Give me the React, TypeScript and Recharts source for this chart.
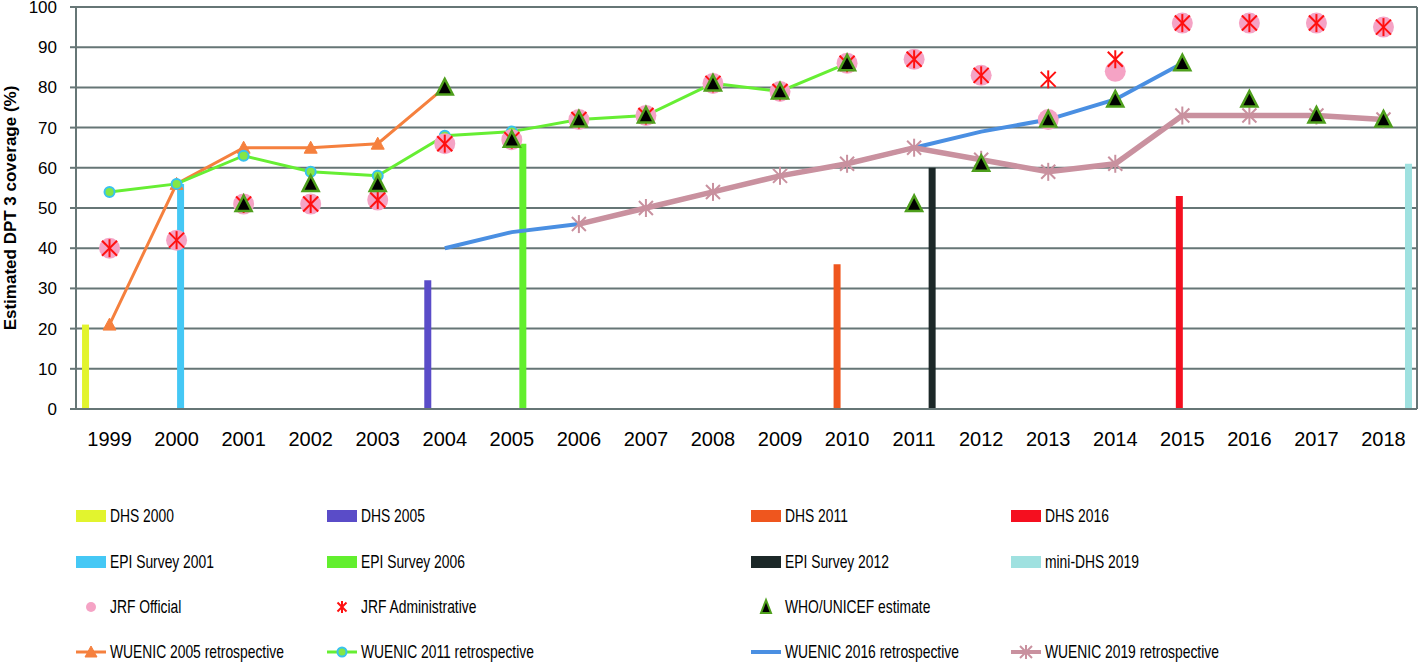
import React from 'react';
import { ComposedChart, Bar, Line, XAxis, YAxis, CartesianGrid } from 'recharts';

const years = ['1999','2000','2001','2002','2003','2004','2005','2006','2007','2008','2009','2010','2011','2012','2013','2014','2015','2016','2017','2018'];

// Survey bars (one value each, placed in its category)
const dhs2000 =     [21, null, null, null, null, null, null, null, null, null, null, null, null, null, null, null, null, null, null, null];
const dhs2005 =     [null, null, null, null, null, 32, null, null, null, null, null, null, null, null, null, null, null, null, null, null];
const dhs2011 =     [null, null, null, null, null, null, null, null, null, null, null, 36, null, null, null, null, null, null, null, null];
const dhs2016 =     [null, null, null, null, null, null, null, null, null, null, null, null, null, null, null, null, 53, null, null, null];
const epi2001 =     [null, 56, null, null, null, null, null, null, null, null, null, null, null, null, null, null, null, null, null, null];
const epi2006 =     [null, null, null, null, null, null, 66, null, null, null, null, null, null, null, null, null, null, null, null, null];
const epi2012 =     [null, null, null, null, null, null, null, null, null, null, null, null, 60, null, null, null, null, null, null, null];
const miniDhs2019 = [null, null, null, null, null, null, null, null, null, null, null, null, null, null, null, null, null, null, null, 61];

const jrfOfficial = [40, 42, 51, 51, 52, 66, 67, 72, 73, 81, 79, 86, 87, 83, 72, 84, 96, 96, 96, 95];
const jrfAdmin =    [40, 42, 51, 51, 52, 66, 67, 72, 73, 81, 79, 86, 87, 83, 82, 87, 96, 96, 96, 95];
const whoUnicef =   [null, null, 51, 56, 56, 80, 67, 72, 73, 81, 79, 86, 51, 61, 72, 77, 86, 77, 73, 72];

const wuenic2005 = [21, 56, 65, 65, 66, 80, null, null, null, null, null, null, null, null, null, null, null, null, null, null];
const wuenic2011 = [54, 56, 63, 59, 58, 68, 69, 72, 73, 81, 79, 86, null, null, null, null, null, null, null, null];
const wuenic2016 = [null, null, null, null, null, 40, 44, 46, 50, 54, 58, 61, 65, 69, 72, 77, 86, null, null, null];
const wuenic2019 = [null, null, null, null, null, null, null, 46, 50, 54, 58, 61, 65, 62, 59, 61, 73, 73, 73, 72];

const yTicks = [0, 10, 20, 30, 40, 50, 60, 70, 80, 90, 100];
const boundaryTicks = years.map((_, i) => i).concat([years.length]);

const data = years.map((year, i) => ({
  year,
  dhs2000: dhs2000[i], dhs2005: dhs2005[i], dhs2011: dhs2011[i], dhs2016: dhs2016[i],
  epi2001: epi2001[i], epi2006: epi2006[i], epi2012: epi2012[i], miniDhs2019: miniDhs2019[i],
  jrfOfficial: jrfOfficial[i], jrfAdmin: jrfAdmin[i], whoUnicef: whoUnicef[i],
  wuenic2005: wuenic2005[i], wuenic2011: wuenic2011[i], wuenic2016: wuenic2016[i], wuenic2019: wuenic2019[i],
}));

const C = {
  dhs2000: '#e2f42e', dhs2005: '#5a4cc8', dhs2011: '#ef561e', dhs2016: '#f50f1f',
  epi2001: '#45c8f5', epi2006: '#62ef2e', epi2012: '#1c2828', miniDhs2019: '#9fe1e0',
  pink: '#f5a3c5', red: '#ff1010', triFill: '#000000', triStroke: '#4e9f1c',
  w2005: '#f5803e', w2011: '#66ee33', w2011Stroke: '#38c2ee', w2016: '#4a8fe2', w2019: '#c9919f',
  grid: '#667676',
};

const barSeries = [
  { key: 'dhs2000', name: 'DHS 2000' },
  { key: 'dhs2005', name: 'DHS 2005' },
  { key: 'dhs2011', name: 'DHS 2011' },
  { key: 'dhs2016', name: 'DHS 2016' },
  { key: 'epi2001', name: 'EPI Survey 2001' },
  { key: 'epi2006', name: 'EPI Survey 2006' },
  { key: 'epi2012', name: 'EPI Survey 2012' },
  { key: 'miniDhs2019', name: 'mini-DHS 2019' },
];

const FONT = "'Liberation Sans', Arial, sans-serif";

const ok = (p: any) => p && p.cx != null && p.cy != null && p.value != null && !Number.isNaN(p.cy);

const Star = ({ cx, cy, h, v, color, sw }: any) => (
  <g>
    <line x1={cx - h} y1={cy - h} x2={cx + h} y2={cy + h} stroke={color} strokeWidth={sw} />
    <line x1={cx - h} y1={cy + h} x2={cx + h} y2={cy - h} stroke={color} strokeWidth={sw} />
    <line x1={cx} y1={cy - v} x2={cx} y2={cy + v} stroke={color} strokeWidth={sw} />
  </g>
);

const Tri = ({ cx, cy, hw, up, down, fill, stroke, sw }: any) => (
  <polygon points={`${cx},${cy - up} ${cx - hw},${cy + down} ${cx + hw},${cy + down}`} fill={fill} stroke={stroke} strokeWidth={sw} strokeLinejoin="miter" />
);

const dotPink = (p: any) => ok(p) ? <circle key={`jo${p.index}`} cx={p.cx} cy={p.cy} r={10.5} fill={C.pink} /> : <g key={`jo${p.index}`} />;
const dotRed = (p: any) => ok(p) ? <g key={`ja${p.index}`}><Star cx={p.cx} cy={p.cy} h={7.5} v={9} color={C.red} sw={2} /></g> : <g key={`ja${p.index}`} />;
const dotWho = (p: any) => ok(p) ? <g key={`wu${p.index}`}><Tri cx={p.cx} cy={p.cy} hw={8} up={8.5} down={7} fill={C.triFill} stroke={C.triStroke} sw={2.5} /></g> : <g key={`wu${p.index}`} />;
const dot2005 = (p: any) => ok(p) ? <g key={`w5${p.index}`}><Tri cx={p.cx} cy={p.cy} hw={6.5} up={6.5} down={5.5} fill={C.w2005} stroke={C.w2005} sw={1} /></g> : <g key={`w5${p.index}`} />;
const dot2011 = (p: any) => ok(p) ? <circle key={`w11${p.index}`} cx={p.cx} cy={p.cy} r={5} fill="#84e646" stroke={C.w2011Stroke} strokeWidth={2} /> : <g key={`w11${p.index}`} />;
const dot2019 = (p: any) => ok(p) ? <g key={`w19${p.index}`}><Star cx={p.cx} cy={p.cy} h={7} v={9} color={C.w2019} sw={2} /></g> : <g key={`w19${p.index}`} />;

type LegendItem = { name: string; kind: string; color?: string };
const legendRows: LegendItem[][] = [
  [{ name: 'DHS 2000', kind: 'bar', color: C.dhs2000 }, { name: 'DHS 2005', kind: 'bar', color: C.dhs2005 }, { name: 'DHS 2011', kind: 'bar', color: C.dhs2011 }, { name: 'DHS 2016', kind: 'bar', color: C.dhs2016 }],
  [{ name: 'EPI Survey 2001', kind: 'bar', color: C.epi2001 }, { name: 'EPI Survey 2006', kind: 'bar', color: C.epi2006 }, { name: 'EPI Survey 2012', kind: 'bar', color: C.epi2012 }, { name: 'mini-DHS 2019', kind: 'bar', color: C.miniDhs2019 }],
  [{ name: 'JRF Official', kind: 'pink' }, { name: 'JRF Administrative', kind: 'redx' }, { name: 'WHO/UNICEF estimate', kind: 'who' }],
  [{ name: 'WUENIC 2005 retrospective', kind: 'w2005' }, { name: 'WUENIC 2011 retrospective', kind: 'w2011' }, { name: 'WUENIC 2016 retrospective', kind: 'w2016' }, { name: 'WUENIC 2019 retrospective', kind: 'w2019' }],
];
const legendColX = [76, 327, 751, 1011];
const legendRowY = [516, 562, 607, 652];

const swatch = (it: LegendItem, x: number, y: number) => {
  const cx = x + 15;
  switch (it.kind) {
    case 'bar': return <rect x={x} y={y - 6} width={30} height={12} fill={it.color} />;
    case 'pink': return <circle cx={cx} cy={y} r={5} fill={C.pink} />;
    case 'redx': return <Star cx={cx} cy={y} h={4.5} v={6} color={C.red} sw={2} />;
    case 'who': return <Tri cx={cx} cy={y} hw={5} up={7} down={6} fill={C.triFill} stroke={C.triStroke} sw={2} />;
    case 'w2005': return <g><line x1={x} y1={y} x2={x + 30} y2={y} stroke={C.w2005} strokeWidth={3} /><Tri cx={cx} cy={y} hw={6} up={6} down={5} fill={C.w2005} stroke={C.w2005} sw={1} /></g>;
    case 'w2011': return <g><line x1={x} y1={y} x2={x + 30} y2={y} stroke={C.w2011} strokeWidth={3} /><circle cx={cx} cy={y} r={4.5} fill="#84e646" stroke={C.w2011Stroke} strokeWidth={2} /></g>;
    case 'w2016': return <line x1={x} y1={y} x2={x + 30} y2={y} stroke={C.w2016} strokeWidth={4} />;
    case 'w2019': return <g><line x1={x} y1={y} x2={x + 30} y2={y} stroke={C.w2019} strokeWidth={4} /><Star cx={cx} cy={y} h={6} v={7} color={C.w2019} sw={2} /></g>;
    default: return null;
  }
};

export default function App() {
  return (
    <div style={{ position: 'absolute', left: 0, top: 0, width: 1418, height: 662, background: '#ffffff', overflow: 'hidden' }}>
      <ComposedChart
        width={1418}
        height={470}
        data={data}
        margin={{ top: 7, right: 0, bottom: 31, left: 0 }}
        barCategoryGap="9%"
        barGap={0}
      >
        <CartesianGrid vertical={false} stroke={C.grid} strokeWidth={2} />
        <XAxis
          xAxisId="ticks"
          type="number"
          domain={[0, years.length]}
          ticks={boundaryTicks}
          allowDataOverflow
          height={0}
          tick={false}
          tickSize={8}
          tickLine={{ stroke: C.grid, strokeWidth: 2 }}
          axisLine={false}
        />
        <XAxis
          dataKey="year"
          interval={0}
          height={30}
          tickLine={false}
          tickSize={8}
          tickMargin={15}
          axisLine={{ stroke: C.grid, strokeWidth: 2 }}
          tick={{ fill: '#000', fontSize: 20, fontFamily: FONT }}
        />
        <YAxis
          width={76}
          domain={[0, 100]}
          ticks={yTicks}
          interval={0}
          tickSize={6}
          tickMargin={13}
          tickLine={{ stroke: C.grid, strokeWidth: 2 }}
          axisLine={{ stroke: C.grid, strokeWidth: 2 }}
          tick={{ fill: '#000', fontSize: 17, fontFamily: FONT }}
        />
        <YAxis
          yAxisId="right"
          orientation="right"
          width={1}
          domain={[0, 100]}
          tick={false}
          tickLine={false}
          axisLine={{ stroke: C.grid, strokeWidth: 2 }}
        />
        {barSeries.map((s) => (
          <Bar key={s.key} dataKey={s.key} name={s.name} fill={(C as any)[s.key]} isAnimationActive={false} />
        ))}
        <Line dataKey="wuenic2016" name="WUENIC 2016 retrospective" stroke={C.w2016} strokeWidth={4} dot={false} activeDot={false} isAnimationActive={false} />
        <Line dataKey="wuenic2019" name="WUENIC 2019 retrospective" stroke={C.w2019} strokeWidth={5.5} dot={dot2019} activeDot={false} isAnimationActive={false} />
        <Line dataKey="wuenic2005" name="WUENIC 2005 retrospective" stroke={C.w2005} strokeWidth={3} dot={dot2005} activeDot={false} isAnimationActive={false} />
        <Line dataKey="wuenic2011" name="WUENIC 2011 retrospective" stroke={C.w2011} strokeWidth={3} dot={dot2011} activeDot={false} isAnimationActive={false} />
        <Line dataKey="jrfOfficial" name="JRF Official" stroke="none" strokeWidth={0} dot={dotPink} activeDot={false} isAnimationActive={false} />
        <Line dataKey="jrfAdmin" name="JRF Administrative" stroke="none" strokeWidth={0} dot={dotRed} activeDot={false} isAnimationActive={false} />
        <Line dataKey="whoUnicef" name="WHO/UNICEF estimate" stroke="none" strokeWidth={0} dot={dotWho} activeDot={false} isAnimationActive={false} />
      </ComposedChart>
      <svg width={1418} height={662} style={{ position: 'absolute', left: 0, top: 0, pointerEvents: 'none' }}>
        <text
          x={16}
          y={208}
          transform="rotate(-90 16 208)"
          textAnchor="middle"
          fontFamily={FONT}
          fontWeight="bold"
          fontSize={17}
          fill="#000"
        >
          Estimated DPT 3 coverage (%)
        </text>
        {legendRows.map((row, r) =>
          row.map((it, c) => (
            <g key={`${r}-${c}`}>
              {swatch(it, legendColX[c], legendRowY[r])}
              <text
                transform={`translate(${legendColX[c] + 34} ${legendRowY[r]}) scale(0.77 1)`}
                x={0}
                y={0}
                dy="0.36em"
                fontFamily={FONT}
                fontSize={18}
                fill="#000"
              >
                {it.name}
              </text>
            </g>
          ))
        )}
      </svg>
    </div>
  );
}
